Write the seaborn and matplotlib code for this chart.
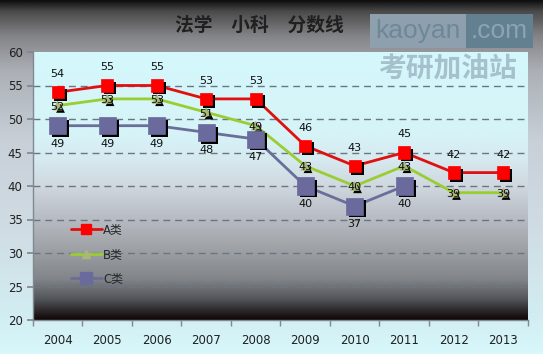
import numpy as np
import pandas as pd
import seaborn as sns
import matplotlib.pyplot as plt
import matplotlib.patheffects as pe
from matplotlib.colors import LinearSegmentedColormap
from matplotlib.lines import Line2D

years = [2004, 2005, 2006, 2007, 2008, 2009, 2010, 2011, 2012, 2013]
a_scores = [54, 55, 55, 53, 53, 46, 43, 45, 42, 42]
b_scores = [52, 53, 53, 51, 49, 43, 40, 43, 39, 39]
c_scores = [49, 49, 49, 48, 47, 40, 37, 40, np.nan, np.nan]
series_names = ["A类", "B类", "C类"]
title = "法学　小科　分数线"

sns.set_theme(style="white")
plt.rcParams["font.family"] = ["DejaVu Sans", "Noto Sans CJK SC"]

df = pd.DataFrame({"year": years, "A类": a_scores, "B类": b_scores, "C类": c_scores})

fig = plt.figure(figsize=(5.43, 3.54), dpi=100)

# figure background gradient
bg = fig.add_axes([0, 0, 1, 1], zorder=-10)
bg_cmap = LinearSegmentedColormap.from_list("bg", [
    (0.0, "#d8f8fc"), (0.1, "#d2eef2"), (0.35, "#d0dce4"), (0.6, "#c8d0d8"),
    (0.8, "#acb0b6"), (0.9, "#848488"), (0.97, "#4a4a4a"), (1.0, "#101010")])
bg.imshow(np.linspace(0, 1, 256).reshape(-1, 1), cmap=bg_cmap, aspect="auto",
          extent=[0, 1, 0, 1], origin="lower")
bg.axis("off")

ax = fig.add_axes([33 / 543, 34 / 354, 495 / 543, 268 / 354])
plot_cmap = LinearSegmentedColormap.from_list("plot", [
    (0.0, "#100808"), (0.019, "#201818"), (0.075, "#505458"), (0.149, "#808488"),
    (0.272, "#a0a4a8"), (0.40, "#bcc0c8"), (0.504, "#d0d8e0"), (0.60, "#d6eaf0"),
    (0.70, "#d6f4f8"), (1.0, "#d4f8fc")])
ax.imshow(np.linspace(0, 1, 256).reshape(-1, 1), cmap=plot_cmap, aspect="auto",
          extent=[0, 1, 0, 1], origin="lower", transform=ax.transAxes, zorder=0)

styles = {
    "A类": dict(color="#e01010", marker="s", size=80, mcolor="#ff0000", off=13, lw=2.0, lsize=7),
    "B类": dict(color="#9acd32", marker="^", size=40, mcolor="#a8b878", off=-1, lw=2.0, lsize=6),
    "C类": dict(color="#6a6e9a", marker="s", size=150, mcolor="#6a6a9c", off=-13, lw=2.0, lsize=8),
}

shadow = [pe.SimplePatchShadow(offset=(2, -2), shadow_rgbFace="black", alpha=1.0), pe.Normal()]

for name in series_names:
    st = styles[name]
    sub = df[["year", name]].dropna()
    sns.lineplot(data=sub, x="year", y=name, color=st["color"], lw=st["lw"], ax=ax, zorder=3)
    sns.scatterplot(data=sub, x="year", y=name, marker=st["marker"], s=st["size"],
                    color=st["mcolor"], edgecolor=st["mcolor"], linewidth=0.5, ax=ax, zorder=4)
    ax.collections[-1].set_path_effects(shadow)
    for x, v in zip(sub["year"], sub[name]):
        ax.annotate(f"{v:.0f}", (x, v), xytext=(0, st["off"]), textcoords="offset points",
                    ha="center", va="center", fontsize=8, color="#101010", zorder=5)

ax.set_xlim(2003.5, 2013.5)
ax.set_ylim(20, 60)
ax.set_xticks(years)
ax.set_xticks(np.arange(2003.5, 2014, 1), minor=True)
ax.set_yticks(np.arange(20, 61, 5))
ax.tick_params(axis="x", which="major", length=0, labelsize=8.5, pad=10, colors="#202020")
ax.tick_params(axis="x", which="minor", length=4, color="#808890", direction="out", bottom=True)
ax.tick_params(axis="y", length=4, color="#808890", labelsize=8.5, colors="#202020", left=True)
ax.set_xlabel("")
ax.set_ylabel("")
for yv in range(25, 60, 5):
    ax.axhline(yv, color="#6a7682", lw=1, dashes=(5, 3.5), zorder=1)
for side in ["top", "right"]:
    ax.spines[side].set_visible(False)
for side in ["left", "bottom"]:
    ax.spines[side].set_color("#808890")
    ax.spines[side].set_linewidth(1)

handles = [Line2D([], [], color=styles[n]["color"], lw=2, marker=styles[n]["marker"],
                  markersize=styles[n]["lsize"], markerfacecolor=styles[n]["mcolor"],
                  markeredgecolor=styles[n]["mcolor"]) for n in series_names]
leg = ax.legend(handles, series_names, loc="upper left", bbox_to_anchor=(0.055, 0.40),
                frameon=False, handlelength=2.6, handletextpad=0.15,
                labelspacing=0.95, prop={"family": ["DejaVu Sans", "Noto Sans CJK SC"], "size": 8.5})

fig.text(259 / 543, 1 - 25 / 354, title, ha="center", va="center", fontsize=13.5,
         fontweight="bold", color="#202020", family=["Noto Sans CJK SC", "DejaVu Sans"])

# watermark
wm_font = ["Liberation Sans", "DejaVu Sans"]
fig.text(461 / 543, 1 - 31 / 354, "kaoyan", ha="right", va="center", fontsize=19,
         color="#6e8898", family=wm_font,
         bbox=dict(boxstyle="square,pad=0.2", facecolor="#8ea0ae", edgecolor="none"))
fig.text(471 / 543, 1 - 31 / 354, ".com", ha="left", va="center", fontsize=19,
         color="#8ca4b2", family=wm_font,
         bbox=dict(boxstyle="square,pad=0.2", facecolor="#62808f", edgecolor="none"))
fig.text(447 / 543, 1 - 69 / 354, "考研加油站", ha="center", va="center", fontsize=20,
         fontweight="bold", color="#a6c0cc", family=["Noto Sans CJK SC"])

fig.savefig("out.png", dpi=100)
